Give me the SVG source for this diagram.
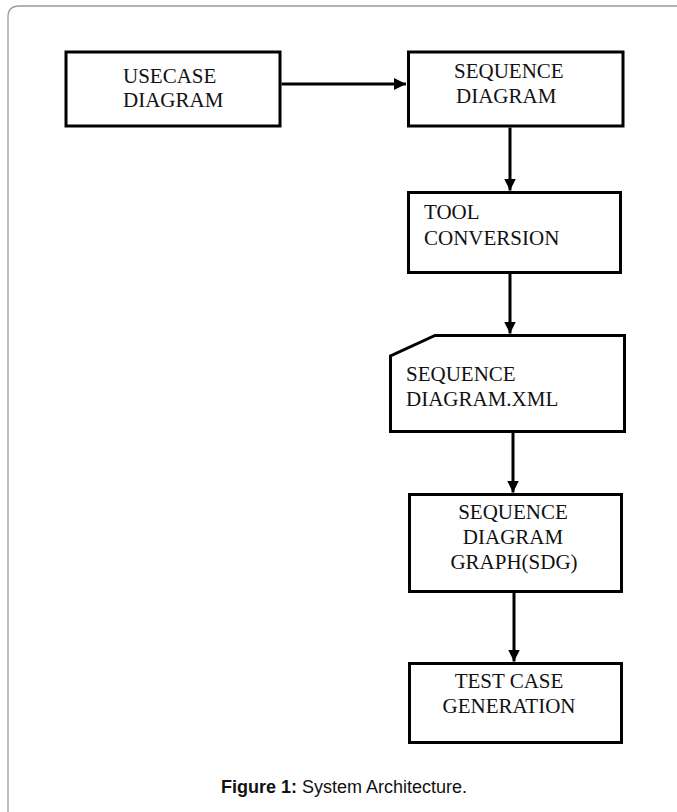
<svg xmlns="http://www.w3.org/2000/svg" width="677" height="812" viewBox="0 0 677 812">
<style>
.box{fill:#fff;stroke:#000;stroke-width:3}
.lbl{font-family:"Liberation Serif","Times New Roman",serif;font-size:21px;fill:#111}
.mid{text-anchor:middle}
.conn{stroke:#000;stroke-width:3;fill:none}
.frame{fill:none;stroke:#9a9a9a;stroke-width:1.3}
.cap{font-family:"Liberation Sans",Arial,sans-serif;font-size:18px;fill:#111}
</style>
<defs>
<marker id="ah" markerUnits="userSpaceOnUse" markerWidth="13" markerHeight="13" refX="12" refY="6" orient="auto">
<path d="M0,0 L12,6 L0,12 Z" fill="#000"/>
</marker>
</defs>
<rect width="677" height="812" fill="#fff"/>
<path class="frame" d="M8,812 V17 Q8,6 19,6 H677"/>
<g id="connectors">
<line class="conn" x1="281.5" y1="84" x2="406" y2="84" marker-end="url(#ah)"/>
<line class="conn" x1="510" y1="127.5" x2="510" y2="190.5" marker-end="url(#ah)"/>
<line class="conn" x1="510" y1="274" x2="510" y2="333.5" marker-end="url(#ah)"/>
<line class="conn" x1="513" y1="433" x2="513" y2="492.5" marker-end="url(#ah)"/>
<line class="conn" x1="514" y1="593" x2="514" y2="661.5" marker-end="url(#ah)"/>
</g>
<g id="usecase">
<rect class="box" x="66" y="52" width="214" height="74"/>
<text class="lbl" x="123" y="83">USECASE</text>
<text class="lbl" x="123" y="107">DIAGRAM</text>
</g>
<g id="sequence">
<rect class="box" x="408.5" y="52" width="214.5" height="74"/>
<text class="lbl" x="454" y="78">SEQUENCE</text>
<text class="lbl" x="456" y="103">DIAGRAM</text>
</g>
<g id="tool">
<rect class="box" x="408.5" y="192.5" width="212" height="80"/>
<text class="lbl" x="424" y="219">TOOL</text>
<text class="lbl" x="424" y="245">CONVERSION</text>
</g>
<g id="xml">
<path class="box" d="M435,335.5 H624.5 V431.5 H390.5 V356 Z"/>
<text class="lbl" x="406" y="381">SEQUENCE</text>
<text class="lbl" x="406" y="406">DIAGRAM.XML</text>
</g>
<g id="sdg">
<rect class="box" x="409.5" y="494.5" width="212" height="97"/>
<text class="lbl mid" x="513" y="519">SEQUENCE</text>
<text class="lbl mid" x="513" y="544">DIAGRAM</text>
<text class="lbl mid" x="514" y="569">GRAPH(SDG)</text>
</g>
<g id="testcase">
<rect class="box" x="409.5" y="663.5" width="212" height="79"/>
<text class="lbl mid" x="509" y="688">TEST CASE</text>
<text class="lbl mid" x="509" y="713">GENERATION</text>
</g>
<text class="cap" x="221" y="793"><tspan font-weight="bold">Figure 1:</tspan> System Architecture.</text>
</svg>
